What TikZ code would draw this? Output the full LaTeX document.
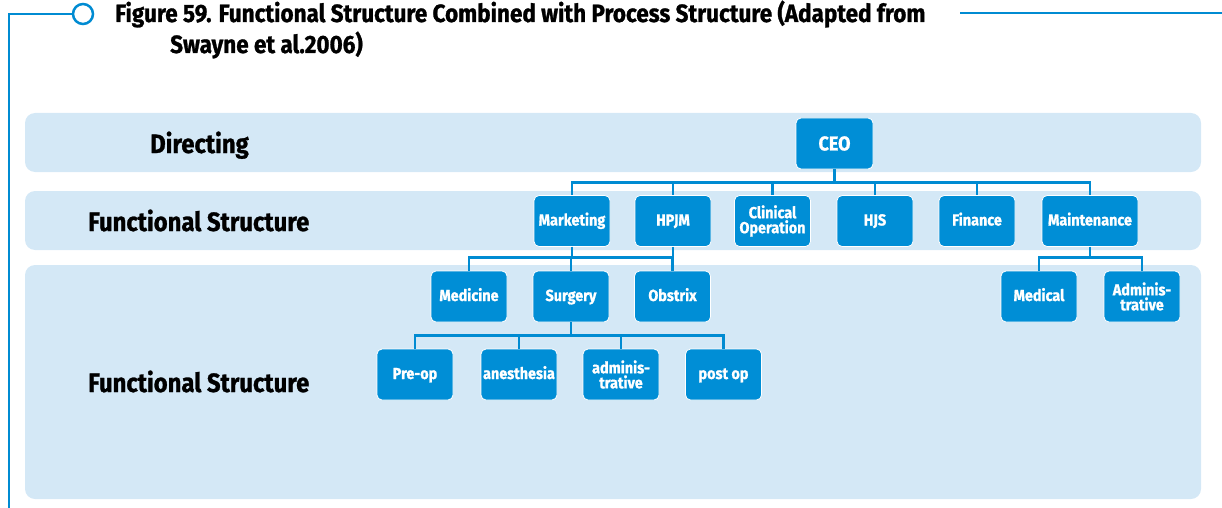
\documentclass[tikz,border=0pt]{standalone}
\usepackage{fontspec}
\newfontfamily\cond{Fira Sans}[FakeStretch=0.9, BoldFeatures={FakeBold=1}]
\definecolor{boxc}{RGB}{0,142,214}
\definecolor{bandc}{RGB}{212,232,246}
\definecolor{linec}{RGB}{0,139,210}
\begin{document}
\begin{tikzpicture}[x=1pt,y=-1pt,
  band/.style={fill=bandc, rounded corners=10pt},
  box/.style={fill=boxc, draw=white, line width=0.8pt, rounded corners=5pt,
    minimum width=76pt, minimum height=51pt, text=white, align=center, inner sep=1pt,
    font=\cond\bfseries\fontsize{16}{15}\selectfont},
  sl/.style={box, text height=11.5pt, text depth=2.5pt},
  conn/.style={draw=linec, line width=2.5pt},
  lab/.style={anchor=base west, inner sep=0pt, font=\cond\bfseries\fontsize{26.5}{26.5}\selectfont},
  ttl/.style={anchor=base west, inner sep=0pt, font=\cond\bfseries\fontsize{25}{25}\selectfont}]
\useasboundingbox (0,0) rectangle (1222,508);
% bands
\fill[band] (25,113) rectangle (1201,172);
\fill[band] (25,191) rectangle (1201,250);
\fill[band] (25,265) rectangle (1201,499);
% frame
\coordinate (fb) at (9,508);
\coordinate (fc) at (9,14);
\node[draw=linec, line width=2.5pt, fill=white, circle, minimum size=20pt, inner sep=0pt] (circ) at (83,14) {};
\draw[conn] (fb) -- (fc) -- (circ.west);
\coordinate (ra) at (960,13);
\coordinate (rb) at (1222,13);
\draw[conn] (ra) -- (rb);
% title
\node[ttl] (t1) at (115,22) {Figure 59. Functional Structure Combined with Process Structure (Adapted from};
\node[ttl] (t2) at (170,53) {Swayne et al.2006)};
% band labels
\node[lab] (l1) at (150,153) {Directing};
\node[lab] (l2) at (88,231) {Functional Structure};
\node[lab] (l3) at (88,392) {Functional Structure};
% boxes
\node[box, minimum width=77pt, font=\cond\bfseries\fontsize{20}{20}\selectfont] (ceo) at (834.5,143.5) {CEO};
\node[sl] (mk) at (572,221) {Marketing};
\node[sl] (hp) at (673,221) {HPJM};
\node[box] (cl) at (772.5,221) {Clinical\\Operation};
\node[sl] (hjs) at (875,221) {HJS};
\node[sl] (fin) at (977,221) {Finance};
\node[sl, minimum width=96pt] (mt) at (1090,221) {Maintenance};
\node[sl] (med) at (469,296.5) {Medicine};
\node[sl] (sur) at (571,296.5) {Surgery};
\node[sl] (obs) at (672.5,296.5) {Obstrix};
\node[sl] (mdl) at (1039,296.5) {Medical};
\node[box] (adm) at (1142,296.5) {Adminis-\\trative};
\node[sl] (pre) at (415,374.5) {Pre-op};
\node[sl] (ane) at (519,374.5) {anesthesia};
\node[box] (adm2) at (621,374.5) {adminis-\\trative};
\node[sl] (post) at (723.5,374.5) {post op};
% connectors
\foreach \c in {mk,hp,cl,hjs,fin,mt}{\draw[conn] (ceo.south) -- ++(0,13) -| (\c.north);}
\foreach \c in {med,sur,obs}{\draw[conn] (mk.south) -- ++(0,10.5) -| (\c.north);}
\draw[conn] (hp.south) -- ++(0,10.5) -| (med.north);
\foreach \c in {mdl,adm}{\draw[conn] (mt.south) -- ++(0,10.5) -| (\c.north);}
\foreach \c in {pre,ane,adm2,post}{\draw[conn] (sur.south) -- ++(0,13) -| (\c.north);}
\end{tikzpicture}
\end{document}
